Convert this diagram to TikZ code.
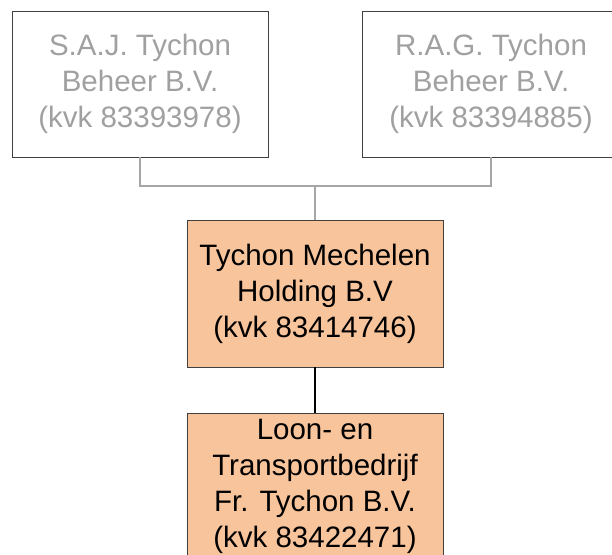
\documentclass[tikz,border=0pt]{standalone}
\usepackage{fontspec}
\setmainfont{Liberation Sans}
\definecolor{peach}{RGB}{248,196,156}
\definecolor{boxline}{RGB}{64,64,64}
\definecolor{greytext}{RGB}{160,160,160}
\definecolor{greyline}{RGB}{166,166,166}
\tikzset{
  orgbox/.style={draw=boxline, line width=0.9pt, minimum width=256pt, minimum height=146pt,
    inner sep=0pt, align=center, font=\fontsize{29.5}{36}\selectfont},
  formerbox/.style={orgbox, text=greytext},
  activebox/.style={orgbox, fill=peach, text=black},
  greyconn/.style={draw=greyline, line width=1.4pt},
  blackconn/.style={draw=black, line width=1.3pt}
}
\begin{document}
\begin{tikzpicture}[x=1pt,y=1pt]
\useasboundingbox (0,0) rectangle (612,-554);
\clip (0,0) rectangle (612,-554);
\node[formerbox] (saj) at (140,-84) {S.A.J. Tychon\\Beheer B.V.\\(kvk 83393978)};
\node[formerbox, minimum width=258pt] (rag) at (491,-84) {R.A.G. Tychon\\Beheer B.V.\\(kvk 83394885)};
\node[activebox, minimum height=147pt] (tmh) at (315,-293.5) {Tychon Mechelen\\Holding B.V\\(kvk 83414746)};
\node[activebox, minimum height=147pt] (lt) at (315,-486.5) {Loon- en\\Transportbedrijf\\Fr. Tychon B.V.\\(kvk 83422471)};
\coordinate (j) at (315,-186);
\draw[greyconn] (saj.south) |- (j) -| (rag.south);
\draw[greyconn] (j) -- (tmh.north);
\draw[blackconn] (tmh.south) -- (lt.north);
\end{tikzpicture}
\end{document}
